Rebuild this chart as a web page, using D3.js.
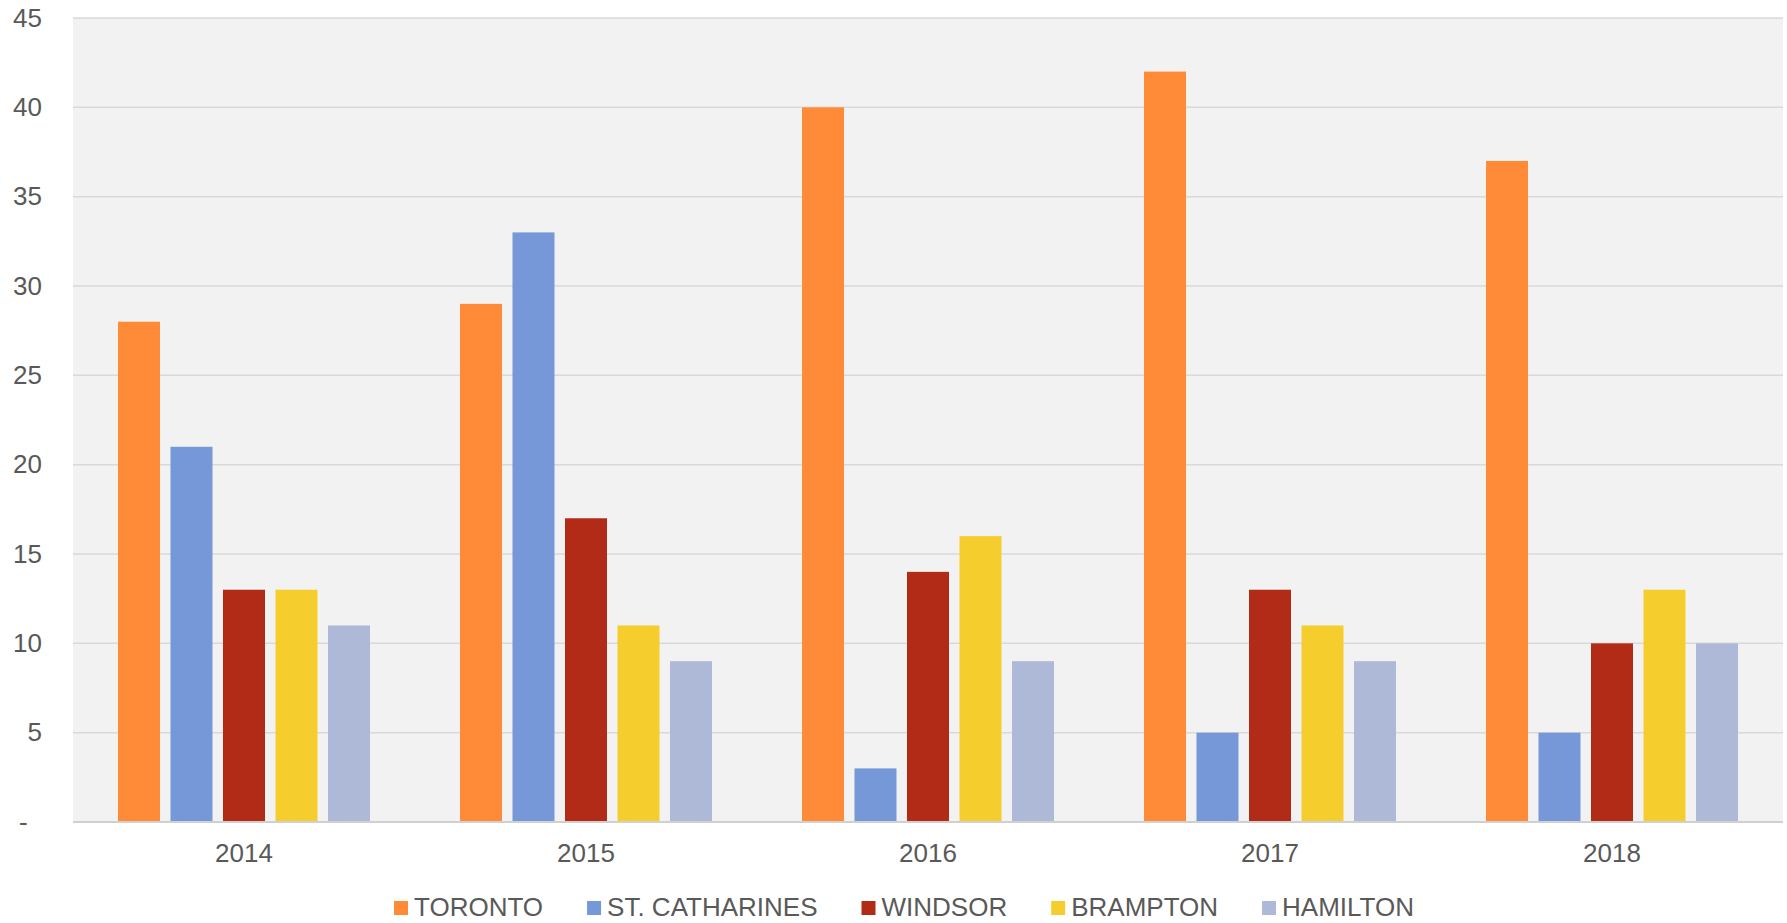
<!DOCTYPE html>
<html>
<head>
<meta charset="utf-8">
<script src="https://cdn.jsdelivr.net/npm/d3@7"></script>
<style>
  html, body { margin: 0; padding: 0; background: #ffffff; }
  svg { display: block; font-family: "Liberation Sans", Arial, sans-serif; }
</style>
</head>
<body>
<svg id="chart" width="1787" height="923"></svg>
<script>
const years = ["2014", "2015", "2016", "2017", "2018"];
const seriesNames = ["TORONTO", "ST. CATHARINES", "WINDSOR", "BRAMPTON", "HAMILTON"];
const toronto = [28, 29, 40, 42, 37];
const stCatharines = [21, 33, 3, 5, 5];
const windsor = [13, 17, 14, 13, 10];
const brampton = [13, 11, 16, 11, 13];
const hamilton = [11, 9, 9, 9, 10];
const yTicks = [0, 5, 10, 15, 20, 25, 30, 35, 40, 45];
const colors = ["#FF8A37", "#7698D8", "#B22B17", "#F5CE2E", "#ADB9D7"];

const seriesValues = [toronto, stCatharines, windsor, brampton, hamilton];

const svg = d3.select("#chart");
const margin = { left: 73, right: 4, top: 18, bottom: 101 };
const W = 1787, H = 923;
const plotW = W - margin.left - margin.right;
const plotH = H - margin.top - margin.bottom;

const g = svg.append("g").attr("transform", `translate(${margin.left},${margin.top})`);

const x0 = d3.scaleBand().domain(years).range([0, plotW]).padding(0);
const x1 = d3.scaleBand().domain(seriesNames).range([0, x0.bandwidth()])
  .paddingInner(0.2).paddingOuter(0.857);
const y = d3.scaleLinear().domain([0, 45]).range([plotH, 0]);

// background
g.append("rect").attr("x", 0).attr("y", 0).attr("width", plotW).attr("height", plotH)
  .attr("fill", "#f2f2f2");

// gridlines
g.append("g").selectAll("line").data(yTicks.filter(d => d > 0)).join("line")
  .attr("x1", 0).attr("x2", plotW)
  .attr("y1", d => y(d)).attr("y2", d => y(d))
  .attr("stroke", "#d9d9d9").attr("stroke-width", 1.5);

// bars
const groups = g.append("g").selectAll("g").data(years).join("g")
  .attr("transform", d => `translate(${x0(d)},0)`);
groups.selectAll("rect")
  .data((yr, i) => seriesNames.map((s, j) => ({ s, j, v: seriesValues[j][i] })))
  .join("rect")
  .attr("x", d => x1(d.s))
  .attr("width", x1.bandwidth())
  .attr("y", d => y(d.v))
  .attr("height", d => plotH - y(d.v))
  .attr("fill", d => colors[d.j]);

// baseline
g.append("line").attr("x1", 0).attr("x2", plotW).attr("y1", plotH).attr("y2", plotH)
  .attr("stroke", "#d0d0d0").attr("stroke-width", 2);

// y axis labels
const yAxis = d3.axisLeft(y).tickValues(yTicks).tickSize(0).tickPadding(31)
  .tickFormat(d => d === 0 ? "-\u00a0\u00a0" : d);
const ya = g.append("g").call(yAxis);
ya.select(".domain").remove();
ya.selectAll("text").attr("fill", "#595959").attr("font-size", 26)
  .attr("font-family", "'Liberation Sans', Arial, sans-serif");

// x axis labels
const xAxis = d3.axisBottom(x0).tickSize(0).tickPadding(22);
const xa = g.append("g").attr("transform", `translate(0,${plotH})`).call(xAxis);
xa.select(".domain").remove();
xa.selectAll("text").attr("fill", "#595959").attr("font-size", 26)
  .attr("font-family", "'Liberation Sans', Arial, sans-serif");

// legend
const legend = svg.append("g");
const items = legend.selectAll("g").data(seriesNames).join("g");
items.append("rect").attr("width", 14).attr("height", 14).attr("y", -15)
  .attr("fill", (d, i) => colors[i]);
items.append("text").attr("x", 20).attr("y", 0).text(d => d)
  .attr("fill", "#595959").attr("font-size", 26);
const gap = 44;
let offs = 0;
const positions = [];
items.each(function () {
  const w = this.getBBox().width;
  positions.push(offs);
  offs += w + gap;
});
const totalW = offs - gap;
const startX = 904 - totalW / 2;
items.attr("transform", (d, i) => `translate(${startX + positions[i]},916)`);
</script>
</body>
</html>
